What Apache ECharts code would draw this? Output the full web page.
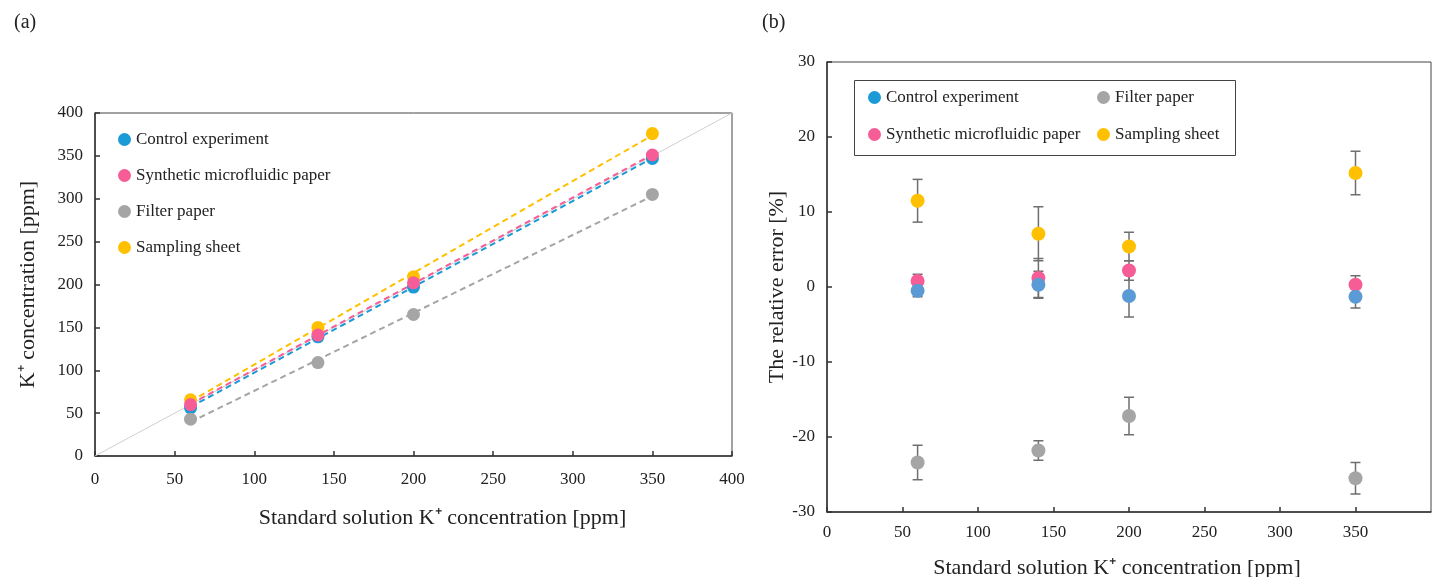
<!DOCTYPE html>
<html>
<head>
<meta charset="utf-8">
<script src="https://cdn.jsdelivr.net/npm/echarts@6/dist/echarts.min.js"></script>
<style>
html,body{margin:0;padding:0;background:#fff;}
#chart{width:1432px;height:577px;}
</style>
</head>
<body>
<div id="chart"></div>
<script>
// standard solution concentrations (ppm)
var stdConc = [60, 140, 200, 350];

// (a) measured K+ concentration [ppm]
var ctrlConc = [56, 139, 197, 347];
var synConc = [60, 141, 202, 351];
var filtConc = [43, 109, 165, 305];
var sampConc = [65.5, 150, 209, 376];

// (b) relative error [%] and error bar half widths
var ctrlErr = [-0.5, 0.3, -1.2, -1.3];
var ctrlSd = [0.8, 1.8, 2.8, 1.5];
var synErr = [0.8, 1.2, 2.2, 0.3];
var synSd = [0.9, 2.6, 1.3, 1.2];
var filtErr = [-23.4, -21.8, -17.2, -25.5];
var filtSd = [2.3, 1.3, 2.5, 2.1];
var sampErr = [11.5, 7.1, 5.4, 15.2];
var sampSd = [2.85, 3.6, 1.9, 2.9];

var xTicksA = [0, 400, 50];   // min, max, interval
var yTicksA = [0, 400, 50];
var xTicksB = [0, 400, 50];
var yTicksB = [-30, 30, 10];

var names = ['Control experiment', 'Synthetic microfluidic paper', 'Filter paper', 'Sampling sheet'];

var FONT = '"Liberation Serif", "Times New Roman", serif';
var cBlue = '#1A9AD6', cBlue2 = '#5B9BD5', cPink = '#F65D97', cGray = '#A5A5A5', cYel = '#FFC000';

function pts(v) { return stdConc.map(function (x, i) { return [x, v[i]]; }); }

// linear trendline (least squares) between first and last standard
function trend(v) {
    var n = stdConc.length, mx = 0, my = 0;
    for (var i = 0; i < n; i++) { mx += stdConc[i]; my += v[i]; }
    mx /= n; my /= n;
    var sxy = 0, sxx = 0;
    for (var i = 0; i < n; i++) { sxy += (stdConc[i] - mx) * (v[i] - my); sxx += (stdConc[i] - mx) * (stdConc[i] - mx); }
    var b = sxy / sxx, a = my - b * mx;
    var x0 = stdConc[0], x1 = stdConc[n - 1];
    return [[x0, a + b * x0], [x1, a + b * x1]];
}

function errData(v, sd) { return stdConc.map(function (x, i) { return [x, v[i] - sd[i], v[i] + sd[i]]; }); }

function errRender(params, api) {
    var x = api.value(0);
    var p1 = api.coord([x, api.value(1)]);
    var p2 = api.coord([x, api.value(2)]);
    var w = 5;
    var st = { stroke: '#6E6E6E', lineWidth: 1.5 };
    return {
        type: 'group',
        children: [
            { type: 'line', shape: { x1: p1[0], y1: p1[1], x2: p2[0], y2: p2[1] }, style: st },
            { type: 'line', shape: { x1: p1[0] - w, y1: p1[1], x2: p1[0] + w, y2: p1[1] }, style: st },
            { type: 'line', shape: { x1: p2[0] - w, y1: p2[1], x2: p2[0] + w, y2: p2[1] }, style: st }
        ]
    };
}

function axisStyle() {
    return {
        axisLine: { show: true, onZero: false, lineStyle: { color: '#333', width: 1.5 } },
        axisTick: { show: true, inside: true, length: 5, lineStyle: { color: '#333', width: 1.5 } },
        axisLabel: { color: '#222', fontFamily: FONT, fontSize: 17, margin: 12 },
        splitLine: { show: false },
        nameTextStyle: { color: '#222', fontFamily: FONT, fontSize: 22 }
    };
}

var xa = Object.assign(axisStyle(), {
    type: 'value', gridIndex: 0, min: xTicksA[0], max: xTicksA[1], interval: xTicksA[2],
    name: 'Standard solution K⁺ concentration [ppm]', nameLocation: 'middle', nameGap: 51
});
xa.axisLabel.margin = 15;
xa.nameTextStyle.padding = [0, 0, 0, 58];
var ya = Object.assign(axisStyle(), {
    type: 'value', gridIndex: 0, min: yTicksA[0], max: yTicksA[1], interval: yTicksA[2],
    name: 'K⁺ concentration [ppm]', nameLocation: 'middle', nameGap: 56
});
var xb = Object.assign(axisStyle(), {
    type: 'value', gridIndex: 1, min: xTicksB[0], max: xTicksB[1], interval: xTicksB[2],
    name: 'Standard solution K⁺ concentration [ppm]', nameLocation: 'middle', nameGap: 45
});
xb.axisLabel.showMaxLabel = false;
xb.nameTextStyle.padding = [0, 24, 0, 0];
var yb = Object.assign(axisStyle(), {
    type: 'value', gridIndex: 1, min: yTicksB[0], max: yTicksB[1], interval: yTicksB[2],
    name: 'The relative error [%]', nameLocation: 'middle', nameGap: 38
});

var legendText = { color: '#222', fontFamily: FONT, fontSize: 17 };

var option = {
    backgroundColor: '#fff',
    animation: false,
    title: [
        { text: '(a)', left: 9, top: 8, textStyle: { fontFamily: FONT, fontSize: 20, fontWeight: 'normal', color: '#222' } },
        { text: '(b)', left: 757, top: 8, textStyle: { fontFamily: FONT, fontSize: 20, fontWeight: 'normal', color: '#222' } }
    ],
    grid: [
        { left: 95, top: 113, width: 637, height: 343, show: true, borderColor: '#444', borderWidth: 1, outerBoundsMode: 'none' },
        { left: 827, top: 62, width: 604, height: 450, show: true, borderColor: '#444', borderWidth: 1, outerBoundsMode: 'none' }
    ],
    legend: [
        {
            data: names, orient: 'vertical', left: 118, top: 131, itemGap: 19, padding: 0,
            icon: 'circle', itemWidth: 13, itemHeight: 13, textStyle: legendText
        },
        {
            data: [names[0], names[1]], orient: 'vertical', left: 868, top: 89, itemGap: 20, padding: 0,
            icon: 'circle', itemWidth: 13, itemHeight: 13, textStyle: legendText
        },
        {
            data: [names[2], names[3]], orient: 'vertical', left: 1097, top: 89, itemGap: 20, padding: 0,
            icon: 'circle', itemWidth: 13, itemHeight: 13, textStyle: legendText
        }
    ],
    graphic: [
        { type: 'rect', left: 852, top: 78, shape: { width: 381, height: 75 }, style: { fill: 'none', stroke: '#444', lineWidth: 1 }, z: 10 }
    ],
    xAxis: [xa, xb],
    yAxis: [ya, yb],
    series: [
        // (a) y = x reference line
        {
            name: 'y=x', type: 'line', xAxisIndex: 0, yAxisIndex: 0, data: [[0, 0], [400, 400]],
            showSymbol: false, silent: true, lineStyle: { color: '#CFCFCF', width: 1 }, z: 1
        },
        { name: 'ctrl-fit', type: 'line', xAxisIndex: 0, yAxisIndex: 0, data: trend(ctrlConc), showSymbol: false, lineStyle: { color: cBlue, width: 2, type: [6, 4] }, z: 2 },
        { name: 'filt-fit', type: 'line', xAxisIndex: 0, yAxisIndex: 0, data: trend(filtConc), showSymbol: false, lineStyle: { color: cGray, width: 2, type: [6, 4] }, z: 2 },
        { name: 'samp-fit', type: 'line', xAxisIndex: 0, yAxisIndex: 0, data: trend(sampConc), showSymbol: false, lineStyle: { color: cYel, width: 2, type: [6, 4] }, z: 2 },
        { name: 'syn-fit', type: 'line', xAxisIndex: 0, yAxisIndex: 0, data: trend(synConc), showSymbol: false, lineStyle: { color: cPink, width: 2, type: [6, 4] }, z: 2 },
        { name: names[0], type: 'scatter', xAxisIndex: 0, yAxisIndex: 0, data: pts(ctrlConc), symbolSize: 13, itemStyle: { color: cBlue, opacity: 1 }, z: 3 },
        { name: names[2], type: 'scatter', xAxisIndex: 0, yAxisIndex: 0, data: pts(filtConc), symbolSize: 13, itemStyle: { color: cGray, opacity: 1 }, z: 3 },
        { name: names[3], type: 'scatter', xAxisIndex: 0, yAxisIndex: 0, data: pts(sampConc), symbolSize: 13, itemStyle: { color: cYel, opacity: 1 }, z: 3 },
        { name: names[1], type: 'scatter', xAxisIndex: 0, yAxisIndex: 0, data: pts(synConc), symbolSize: 13, itemStyle: { color: cPink, opacity: 1 }, z: 4 },

        // (b) error bars
        { name: 'eb1', type: 'custom', xAxisIndex: 1, yAxisIndex: 1, renderItem: errRender, data: errData(ctrlErr, ctrlSd), encode: { x: 0, y: [1, 2] }, z: 2 },
        { name: 'eb2', type: 'custom', xAxisIndex: 1, yAxisIndex: 1, renderItem: errRender, data: errData(synErr, synSd), encode: { x: 0, y: [1, 2] }, z: 2 },
        { name: 'eb3', type: 'custom', xAxisIndex: 1, yAxisIndex: 1, renderItem: errRender, data: errData(filtErr, filtSd), encode: { x: 0, y: [1, 2] }, z: 2 },
        { name: 'eb4', type: 'custom', xAxisIndex: 1, yAxisIndex: 1, renderItem: errRender, data: errData(sampErr, sampSd), encode: { x: 0, y: [1, 2] }, z: 2 },
        { name: names[1], type: 'scatter', xAxisIndex: 1, yAxisIndex: 1, data: pts(synErr), symbolSize: 14, itemStyle: { color: cPink, opacity: 1 }, z: 3 },
        { name: names[0], type: 'scatter', xAxisIndex: 1, yAxisIndex: 1, data: pts(ctrlErr), symbolSize: 14, itemStyle: { color: cBlue2, opacity: 1 }, z: 4 },
        { name: names[2], type: 'scatter', xAxisIndex: 1, yAxisIndex: 1, data: pts(filtErr), symbolSize: 14, itemStyle: { color: cGray, opacity: 1 }, z: 3 },
        { name: names[3], type: 'scatter', xAxisIndex: 1, yAxisIndex: 1, data: pts(sampErr), symbolSize: 14, itemStyle: { color: cYel, opacity: 1 }, z: 3 }
    ]
};

var mychart = echarts.init(document.getElementById('chart'));
mychart.setOption(option);
</script>
</body>
</html>
